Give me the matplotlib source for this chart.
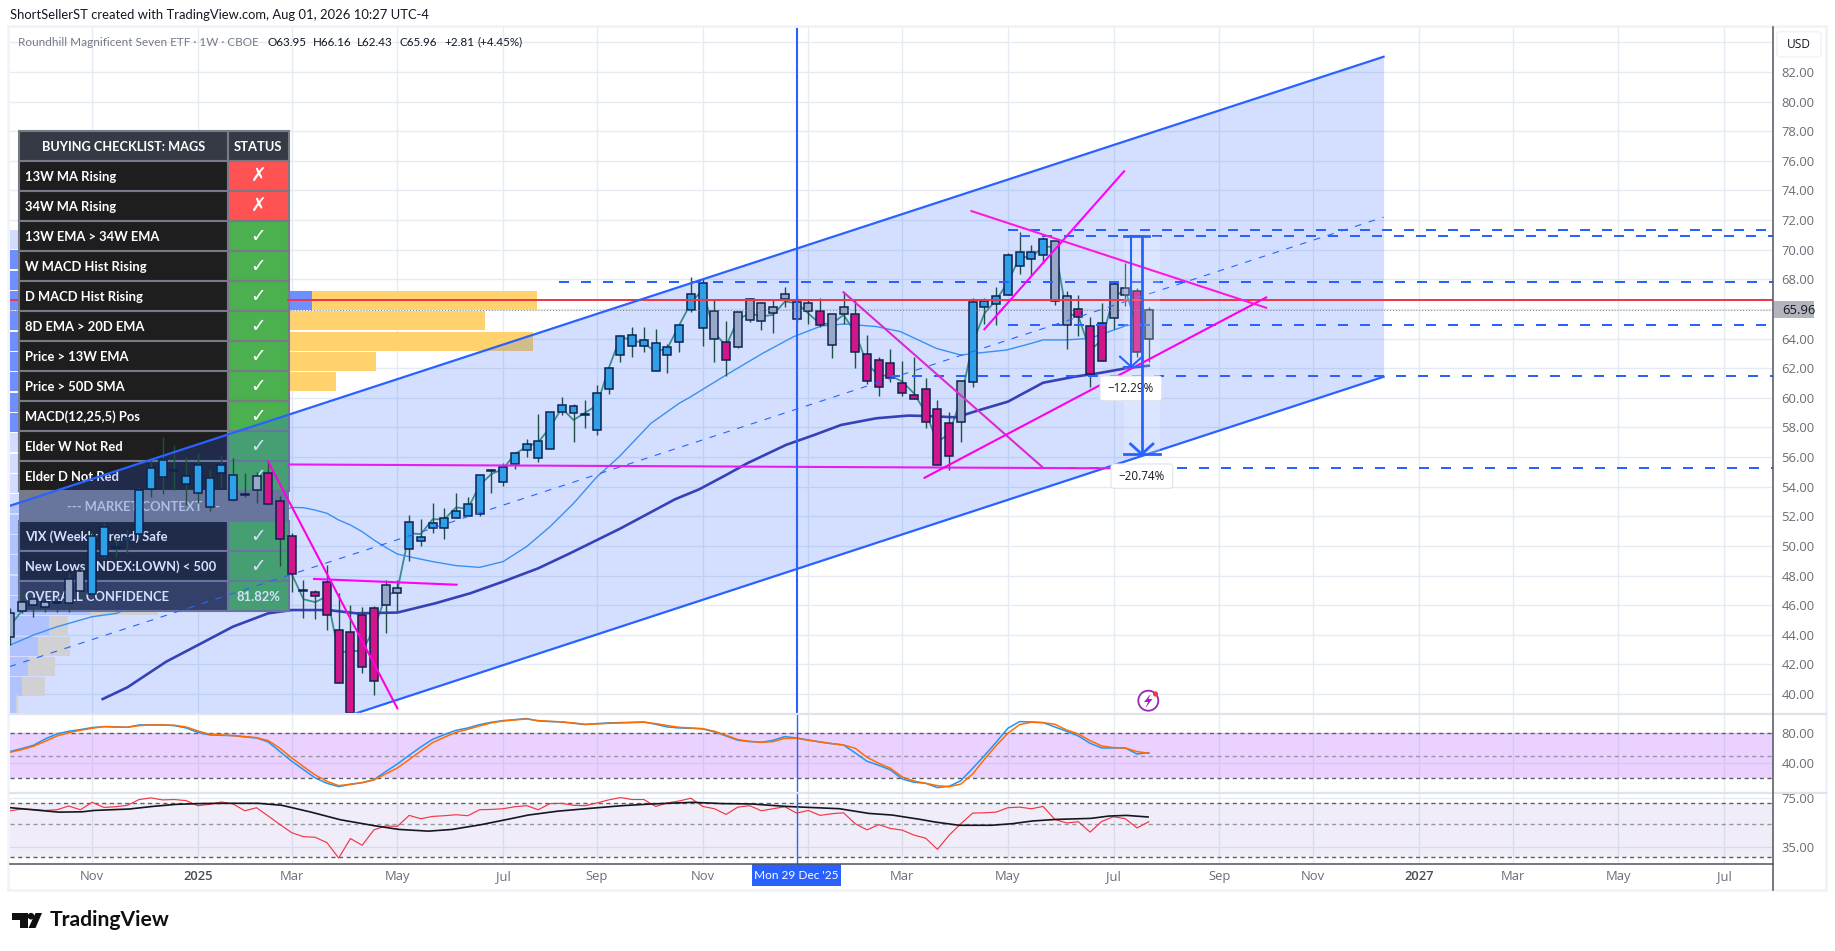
#!/usr/bin/python3
import matplotlib
matplotlib.use("Agg")
import matplotlib.pyplot as plt
import numpy as np
from matplotlib.lines import Line2D
from matplotlib.patches import Circle, FancyBboxPatch, Polygon, Rectangle
from matplotlib.ticker import NullLocator
from matplotlib.transforms import Affine2D

plt.rcParams["font.family"] = ["Open Sans", "DejaVu Sans"]
NARROW = ["Lato", "DejaVu Sans"]

# weekly candles, body edges and wicks
body_top = [45.44, 46.23, 46.39, 46.23, 46.23, 47.79, 48.33, 50.69, 51.30, 49.92,
            50.55, 53.80, 55.28, 55.80, 55.10, 54.69, 55.46, 54.60, 55.48, 54.81,
            53.48, 54.69, 54.90, 53.05, 50.69, 47.00, 46.90, 47.58, 44.29, 44.16,
            45.35, 45.78, 47.33, 47.13, 51.63, 50.57, 51.56, 51.90, 52.33, 52.80,
            54.76, 55.12, 55.35, 56.29, 56.90, 57.06, 59.02, 59.53, 59.42, 58.88,
            60.30, 61.99, 64.15, 64.22, 63.88, 63.68, 63.41, 64.90, 66.99, 67.73,
            65.84, 63.75, 65.77, 66.65, 66.38, 66.11, 66.99, 66.45, 66.38, 65.89,
            65.64, 66.11, 65.64, 62.98, 62.58, 62.33, 60.98, 60.17, 60.57, 59.22,
            58.28, 61.11, 66.45, 66.56, 66.85, 69.62, 69.82, 69.82, 70.70, 70.57,
            66.85, 66.02, 64.83, 65.08, 67.66, 67.39, 67.19, 65.96]
body_bot = [43.82, 45.62, 46.03, 45.90, 46.16, 46.12, 46.93, 46.73, 49.32, 49.88,
            50.37, 50.78, 53.82, 54.63, 55.05, 54.18, 53.55, 52.60, 54.90, 53.07,
            53.41, 53.75, 52.80, 50.44, 48.08, 46.95, 46.59, 45.31, 40.71, 38.69,
            41.79, 40.85, 45.98, 46.79, 49.76, 50.35, 51.23, 51.23, 51.86, 52.04,
            52.17, 55.08, 54.33, 55.50, 56.45, 55.91, 56.52, 59.04, 58.95, 58.84,
            57.80, 60.62, 62.87, 63.48, 63.48, 61.83, 62.87, 63.75, 65.91, 64.69,
            63.95, 62.53, 63.41, 65.23, 65.17, 65.75, 66.65, 65.30, 65.84, 64.90,
            63.55, 65.64, 63.07, 61.11, 60.71, 61.32, 60.30, 59.90, 58.35, 55.44,
            56.05, 58.35, 61.05, 66.11, 66.31, 66.92, 68.88, 69.35, 69.62, 66.52,
            64.90, 65.44, 61.59, 62.47, 65.37, 66.92, 63.12, 63.95]
highs = [45.78, 46.79, 46.57, 46.45, 46.57, 48.14, 48.59, 50.96, 51.52, 50.62,
         51.07, 54.00, 55.91, 57.37, 56.81, 56.02, 56.25, 55.12, 56.13, 55.91,
         54.90, 55.01, 55.68, 53.37, 50.84, 47.69, 47.02, 48.71, 46.79, 46.00,
         45.89, 45.94, 47.69, 47.69, 52.08, 51.81, 52.87, 52.53, 53.55, 53.32,
         54.76, 55.17, 55.57, 56.29, 57.21, 58.88, 59.06, 60.03, 59.58, 59.85,
         60.86, 62.10, 64.24, 64.81, 64.81, 64.63, 63.64, 64.90, 68.18, 68.05,
         66.61, 65.21, 65.77, 66.76, 66.49, 66.61, 67.46, 66.94, 66.67, 66.72,
         65.64, 67.10, 66.65, 64.24, 62.74, 63.30, 62.47, 62.78, 61.32, 59.85,
         59.07, 61.11, 66.76, 66.72, 67.46, 69.80, 71.18, 70.32, 70.88, 70.57,
         67.19, 66.94, 65.48, 66.38, 67.89, 69.13, 67.39, 66.16]
lows = [43.30, 45.44, 45.22, 45.55, 45.55, 45.55, 46.57, 46.57, 49.16, 49.27,
        49.49, 50.62, 53.32, 53.48, 53.77, 52.76, 52.87, 52.37, 54.00, 53.03,
        53.32, 52.91, 52.76, 48.64, 46.86, 45.15, 45.04, 44.32, 40.71, 38.69,
        41.44, 39.95, 44.09, 45.62, 49.00, 50.01, 50.89, 50.46, 51.86, 52.04,
        52.04, 53.59, 54.04, 55.17, 56.02, 55.68, 56.52, 58.86, 57.03, 57.93,
        57.51, 60.26, 62.40, 62.78, 63.12, 61.83, 61.70, 63.10, 65.82, 63.52,
        62.42, 61.47, 63.34, 65.14, 64.58, 64.40, 66.16, 65.14, 64.96, 64.81,
        62.71, 64.96, 62.04, 60.93, 60.15, 61.09, 60.15, 59.90, 57.99, 55.44,
        55.10, 57.00, 60.75, 64.96, 64.92, 66.92, 68.36, 68.29, 69.08, 66.29,
        63.32, 64.18, 60.75, 62.47, 64.65, 66.20, 62.78, 62.43]
bar_kind = ("ggggggg" "bb" "g" "bbbbbbbbbb" "b" "g" "mmm" "g" "mmmmmm" "gg"
            "bbbbbbb" "b" "bbbbbbb" "b" "bbbbbbbbbb" "g" "m" "ggggggg" "m" "gg"
            "mmmmmmmmm" "g" "bbbbbbb" "gg" "mmm" "gg" "m" "g")

# moving averages on the price pane
fast_ma = [44.6, 45.6, 45.9, 46.0, 46.1, 46.6, 47.2, 49.0, 49.8, 49.9, 50.2, 52.0,
           53.5, 54.5, 54.7, 54.6, 54.6, 54.0, 54.5, 54.2, 53.8, 53.9, 53.3, 52.0,
           48.1, 46.4, 46.2, 46.6, 42.8, 42.9, 42.9, 44.4, 46.6, 47.0, 50.85, 50.8,
           51.8, 51.8, 52.6, 52.5, 54.1, 54.85, 55.2, 56.2, 56.7, 57.0, 58.0, 59.3,
           58.5, 59.0, 59.5, 62.0, 64.1, 63.9, 63.68, 63.1, 63.35, 64.9, 66.4, 67.3,
           64.4, 63.5, 65.3, 65.7, 65.5, 65.6, 66.5, 66.4, 65.7, 65.0, 65.0, 65.6,
           64.4, 62.3, 61.5, 61.5, 61.1, 60.3, 59.0, 57.0, 57.6, 59.9, 63.7, 65.7,
           66.6, 67.8, 69.5, 69.5, 70.2, 70.2, 65.7, 65.5, 63.2, 63.9, 66.8, 67.3,
           64.8, 65.0]
mid_ma_bar = [0, 2, 4, 7, 9.1, 12, 15, 18, 21, 24, 25, 26, 27, 28, 29, 30, 31, 32, 33,
              34, 36, 38, 40, 42, 44, 46, 48, 50, 51.9, 54.6, 57, 58, 61, 64.1,
              66.75, 69.1, 71.1, 73.8, 75.85, 78.9, 81, 82.2, 84.9, 87, 88, 90, 92,
              95, 96]
mid_ma = [43.3, 43.98, 44.54, 45.22, 45.45, 46.5, 48.0, 50.0, 51.8, 52.6, 52.58,
          52.42, 52.2, 51.75, 51.41, 50.96, 50.4, 49.9, 49.45, 49.27, 48.94, 48.67,
          48.55, 48.94, 49.95, 51.3, 52.87, 54.67, 56.03, 58.28, 59.63, 60.08, 61.54,
          63.0, 64.13, 64.85, 64.99, 64.81, 64.47, 63.34, 62.89, 63.0, 63.23, 63.68,
          63.91, 63.91, 64.02, 64.85, 65.0]
slow_ma_bar = [7.9, 10, 13.3, 16, 19, 22, 24, 27.1, 29.5, 33, 36.2, 39.2, 42, 45, 47.7,
               52, 56.65, 58.7, 61, 62.8, 66.1, 68.5, 70.8, 73.8, 76.5, 78.2, 80.6,
               82.6, 85, 88, 90.7, 92.7, 95.1, 97]
slow_ma = [39.66, 40.45, 42.18, 43.3, 44.55, 45.45, 45.67, 45.67, 45.45, 45.5, 46.12,
           46.8, 47.59, 48.49, 49.5, 51.18, 53.15, 53.82, 54.79, 55.58, 56.82, 57.49,
           58.17, 58.62, 58.8, 58.77, 58.68, 59.18, 59.74, 61.02, 61.43, 61.66, 62.0,
           62.17]

# stochastic RSI pane
stoch_k = [55.6, 59.6, 64, 72.4, 79.1, 82.7, 84.9, 87.6, 88.9, 88.4, 88, 91.1, 91.1,
           91.1, 90.2, 87.1, 81.3, 77.8, 77.3, 76.9, 75.1, 73.8, 68.4, 55.6, 42.7,
           31.6, 20.4, 13.3, 8.9, 12, 14.2, 18.2, 28.9, 39.1, 50.7, 61.8, 72, 78.2,
           84, 87.1, 91.6, 94.7, 96.9, 98.2, 99.6, 96.4, 95.6, 95.1, 93.3, 91.6,
           92.9, 93.8, 94.2, 94.7, 95.1, 92, 88.4, 87.1, 86.7, 85.8, 81.8, 76.4,
           70.7, 68.9, 68, 70.7, 75.6, 73.8, 71.1, 68.4, 66.2, 64.4, 53.8, 42.7,
           37.3, 31.1, 19.1, 14.7, 13.3, 7.6, 9.3, 16.9, 33.3, 50.2, 68, 86.7, 95.6,
           95.1, 94.2, 88.4, 82.7, 76.4, 66.7, 60.4, 60.4, 60.4, 52.4, 54.2]
stoch_d = [54.7, 58.2, 62.7, 69.3, 76.4, 80.9, 84, 86.7, 88.9, 88.4, 88, 90.2, 91.1,
           91.1, 90.7, 88.4, 83.1, 78.7, 77.8, 76.9, 75.6, 74.2, 70.2, 60, 47.1,
           35.6, 24.4, 16, 10.2, 12, 14.2, 17.8, 25.8, 33.8, 44.9, 56.4, 67.6, 74.7,
           81.3, 85.3, 89.8, 93.8, 96.4, 97.8, 99.1, 96.9, 96, 95.1, 93.8, 92, 92.4,
           93.3, 93.8, 94.2, 94.7, 92.9, 90.2, 88, 87.1, 86.2, 82.7, 77.3, 71.6,
           69.3, 68, 68.9, 73.3, 73.3, 70.7, 68.4, 66.2, 64.4, 60, 48, 40, 33.3,
           21.8, 16.4, 13.3, 10.2, 8.9, 12.4, 25.8, 45.3, 63.6, 80, 91.6, 94.7, 94.2,
           92, 84.4, 79.1, 70.2, 63.1, 60.9, 60.4, 55.6, 53.3]

# RSI pane
rsi = [61.7, 63.4, 63, 62, 62.7, 66.4, 62.7, 70.4, 65, 65.7,
       67.2, 73.5, 75.4, 73.1, 73.5, 72.3, 66.8, 68.2, 70.8, 68.6,
       61.7, 64.7, 56.8, 49.7, 43.8, 41.2, 40.8, 37.5, 29.5, 40,
       36, 45.8, 48.7, 48.4, 57.4, 54.5, 56.5, 57.1, 58, 57.1,
       62.7, 63, 63.7, 65.7, 66.8, 62.7, 69, 69.3, 67.2, 66.8,
       69.7, 73.1, 75.8, 73.5, 73.5, 66, 69.7, 71.9, 75, 66,
       63.7, 58.3, 65.3, 66.8, 61.7, 63.7, 65.7, 59.5, 62, 57.4,
       58.9, 59.8, 50.4, 45.8, 49.7, 46.8, 45.6, 42.2, 40.2, 33.8,
       42.2, 50.4, 59.5, 59.8, 60.4, 64.7, 65.3, 63.7, 66, 53.9,
       51, 52, 44.2, 52.3, 56.2, 54.5, 47.2, 52]
rsi_ma_bar = [0.05, 1.9, 4.15, 6.15, 7.15, 10.15, 12.15, 14.15, 16.15, 18.15, 21.15,
              23.15, 25.65, 28.15, 31.15, 33.15, 35.65, 37.65, 40.15, 42.65, 44.15,
              46.65, 49.65, 52.15, 54.65, 58.15, 60.65, 63.15, 66.15, 70.65, 73.15,
              75.15, 77.55, 78.84, 80.84, 83.59, 85.34, 87.09, 89.09, 92.09, 93.59,
              95.09, 96.94]
rsi_ma = [64.7, 62.7, 60.4, 60.7, 62, 63.4, 66, 68.2, 69, 69.3, 69.3, 67.2, 60.4, 53.6,
          48.7, 46.1, 44.9, 46.1, 49.7, 54.5, 57.7, 61.3, 64.3, 66.8, 68.6, 70.4, 69,
          68.6, 66, 63.7, 59.2, 57.7, 53.9, 51.7, 49.2, 49.2, 50.4, 52.6, 53.9, 54.8,
          56.8, 57.4, 56]

# volume profile rows, top row first, lengths in pixels of the pane
vp_prices = [70.69, 69.32, 67.94, 66.57, 65.20, 63.82, 62.45, 61.08, 59.71, 58.33,
             56.96, 55.59, 54.21, 52.84, 51.47, 50.10, 48.72, 47.35, 45.98, 44.60,
             43.23, 41.86, 40.49, 39.30]
vp_up = [100, 180, 200, 302.5, 270, 265, 240, 225, 200, 160, 100, 90, 120, 110, 120,
         130, 140, 120, 80.5, 39.5, 28.5, 18.5, 12.5, 6.5]
vp_down = [60, 80, 70, 225, 205, 258, 126, 101, 70, 60, 50, 60, 80, 70, 60, 90, 90, 60,
           67.5, 19, 32, 27, 23, 2]
vp_in_area = [0, 1, 1, 1, 1, 1, 1, 1, 1, 1, 0, 0, 0, 0, 0, 0, 0, 0, 0, 0, 0, 0, 0, 0]

# drawings
channel_bar = [-0.04, 117]
channel_up = [52.7, 83.03]
channel_mid = [41.85, 72.2]
channel_low = [31.03, 61.42]
level_prices = [71.33, 70.93, 67.82, 64.92, 61.47, 55.24]
level_start = [85, 86, 46.8, 85, 75, 90]
red_level = 66.58
last_price = 65.96
magenta_lines = [([23.7, 93.7], [55.5, 55.24], "#E61CF0"),
                 ([22, 33], [55.68, 39.03], "#FF00E0"),
                 ([25.9, 38.05], [47.77, 47.38], "#FF00FF"),
                 ([71, 88], [67.13, 55.28], "#D92AD2"),
                 ([77.9, 107], [54.6, 66.78], "#FF00E6"),
                 ([81.9, 107], [72.61, 66.08], "#FF18E0"),
                 ([83, 94.9], [64.63, 75.3], "#FF00FF")]
measure_top = 70.93
measure_bars = [95.5, 96.4]
measure_bottoms = [62.1, 56.2]
measure_labels = ["\u221212.29%", "\u221220.74%"]

# axis labels
price_ticks = list(range(40, 86, 2))
time_ticks = [7, 16, 24, 33, 42, 50, 59, 68, 76, 85, 94, 103, 111, 120, 128, 137, 146]
time_labels = ["Nov", "2025", "Mar", "May", "Jul", "Sep", "Nov", "", "Mar", "May", "Jul",
               "Sep", "Nov", "2027", "Mar", "May", "Jul"]

# checklist table
table_rows = ["13W MA Rising", "34W MA Rising", "13W EMA > 34W EMA", "W MACD Hist Rising",
              "D MACD Hist Rising", "8D EMA > 20D EMA", "Price > 13W EMA",
              "Price > 50D SMA", "MACD(12,25,5) Pos", "Elder W Not Red",
              "Elder D Not Red", "--- MARKET CONTEXT ---", "VIX (Weekly Trend) Safe",
              "New Lows (INDEX:LOWN) < 500", "OVERALL CONFIDENCE"]
table_status = ["x", "x", "v", "v", "v", "v", "v", "v", "v", "v", "v", "", "v", "v", "81.82%"]

W, H = 1835, 951
BAR_PX = 11.74
XLIM = (-0.04, 150.17)
BLUE = "#2962FF"
TEXT_GREY = "#6A6D78"
GRID = "#E4EBF2"
TABLE_SIZE = 9.4

fig = plt.figure(figsize=(W / 100, H / 100), dpi=100, facecolor="white")
pix = Affine2D().scale(1, -1).translate(0, H)


def pane(top, bottom):
    a = fig.add_axes([9.5 / W, 1 - bottom / H, (1773 - 9.5) / W, (bottom - top) / H])
    for s in a.spines.values():
        s.set_visible(False)
    a.set_xlim(*XLIM)
    a.set_xticks(time_ticks)
    a.grid(True, color=GRID, lw=1.0, zorder=1)
    a.set_axisbelow(True)
    a.yaxis.tick_right()
    a.tick_params(length=0, labelbottom=False, labelsize=9.4, labelcolor=TEXT_GREY, pad=6.2)
    return a


ax = pane(27, 714)
ax2 = pane(714, 793)
ax3 = pane(793, 863.5)

# price pane
ax.set_ylim(38.65, 85.04)
ax.set_yticks(price_ticks)
ax.set_yticklabels(["%.2f" % p if p < 84 else "" for p in price_ticks])

vp_up_w = np.array(vp_up) / BAR_PX
vp_down_w = np.array(vp_down) / BAR_PX
for i in range(len(vp_prices)):
    up_col = "#6E8FFF" if vp_in_area[i] else "#D2DCFF"
    down_col = "#FFD26E" if vp_in_area[i] else "#FBECC7"
    ax.barh(vp_prices[i], vp_up_w[i], height=1.28, left=XLIM[0], color=up_col, zorder=2)
    ax.barh(vp_prices[i], vp_down_w[i], height=1.28, left=XLIM[0] + vp_up_w[i],
            color=down_col, zorder=2)

bars = np.arange(len(body_top))
ax.plot(bars, fast_ma, color="#3E9A78", lw=1.3, zorder=2.4)
ax.plot(mid_ma_bar, mid_ma, color="#3D9CF0", lw=1.0, zorder=2.4)
ax.plot(slow_ma_bar, slow_ma, color="#3A3AA6", lw=1.9, zorder=2.4)

# table sits above the profile but below the channel and candles
tx0, tx1, tx2 = 18.6, 228, 288.6
ty0, row_h = 130.7, 30
for i in range(16):
    y = ty0 + i * row_h
    ty = y + row_h / 2 + 1
    if i == 0:
        label, status = "BUYING CHECKLIST: MAGS", "STATUS"
    else:
        label, status = table_rows[i - 1], table_status[i - 1]
    if label.startswith("---"):
        ax.add_patch(Rectangle((tx0, y), tx2 - tx0, row_h, transform=pix, fc="#787B86",
                               ec="none", zorder=3))
        ax.text((tx0 + tx2) / 2 - 10, ty, label, transform=pix, color="#D1D4DC",
                fontsize=TABLE_SIZE, family=NARROW, fontweight="bold", ha="center",
                va="center", zorder=3.5)
        continue
    left_col = "#363A45" if i in (0, 15) else "#1E1E1E"
    right_col = "#363A45" if i == 0 else ("#FF5252" if status == "x" else "#4CAF50")
    ax.add_patch(Rectangle((tx0, y), tx1 - tx0, row_h, transform=pix, fc=left_col,
                           ec="#787B86", lw=1.5, zorder=3))
    ax.add_patch(Rectangle((tx1, y), tx2 - tx1, row_h, transform=pix, fc=right_col,
                           ec="#787B86", lw=1.5, zorder=3))
    if i == 0:
        ax.text((tx0 + tx1) / 2, ty, label, transform=pix, color="white", fontsize=9.2,
                family=NARROW, fontweight="bold", ha="center", va="center", zorder=3.5)
    else:
        ax.text(tx0 + 6, ty, label, transform=pix, color="white", fontsize=TABLE_SIZE,
                family=NARROW, fontweight="bold", ha="left", va="center", zorder=3.5)
    if status == "x":
        ax.text((tx1 + tx2) / 2, ty, "\u2717", transform=pix, color="white", fontsize=13.5,
                family="DejaVu Sans", fontweight="bold", ha="center", va="center", zorder=3.5)
    elif status == "v":
        ax.text((tx1 + tx2) / 2, ty, "\u2713", transform=pix, color="white", fontsize=13.5,
                family="DejaVu Sans", fontweight="bold", ha="center", va="center", zorder=3.5)
    else:
        ax.text((tx1 + tx2) / 2, ty, status, transform=pix, color="white", fontsize=TABLE_SIZE,
                family=NARROW, fontweight="bold", ha="center", va="center", zorder=3.5)

ax.fill_between(channel_bar, channel_low, channel_up, color=BLUE, alpha=0.2, lw=0, zorder=4)

# candles
body_cols = {"b": "#2F9FE8", "m": "#D1168A", "g": "#9AA8C8"}
for i in bars:
    ax.vlines(i, lows[i], highs[i], color="#1F4F45", lw=1.0, zorder=5)
    ax.bar(i, body_top[i] - body_bot[i], bottom=body_bot[i], width=0.68,
           color=body_cols[bar_kind[i]], edgecolor="#0D2350", lw=1.1, zorder=5.5)

# channel and levels
ax.plot(channel_bar, channel_up, color=BLUE, lw=1.6, zorder=7)
ax.plot(channel_bar, channel_low, color=BLUE, lw=1.6, zorder=7)
ax.plot(channel_bar, channel_mid, color=BLUE, lw=0.8, ls=(0, (6, 7)), zorder=7)
for p, s in zip(level_prices, level_start):
    ax.plot([s, XLIM[1]], [p, p], color=BLUE, lw=1.44, ls=(0, (5, 6)), zorder=7)
ax.plot([XLIM[0], 0.7], [red_level, red_level], color="#F23645", lw=1.44, zorder=2.6)
ax.plot([23.7, XLIM[1]], [red_level, red_level], color="#F23645", lw=1.44, zorder=6.5)
ax.axhline(last_price, color="#787B86", lw=0.7, ls=(0, (1, 2)), zorder=6.5)
for xs, ys, col in magenta_lines:
    ax.plot(xs, ys, color=col, lw=1.5, zorder=7.2)
ax.axvline(67, color=BLUE, lw=1.5, zorder=7.3)

# measure tools
ax.add_patch(Rectangle((94.9, measure_bottoms[1]), 3.05, measure_top - measure_bottoms[1],
                       fc="white", alpha=0.2, ec="none", zorder=7.1))
ax.plot([94.9, 97.0], [measure_top, measure_top], color=BLUE, lw=2, zorder=7.4)
for k, b, lw in zip(measure_bars, measure_bottoms, [1.5, 2.0]):
    ax.plot([k, k], [measure_top, b], color=BLUE, lw=lw, zorder=7.4)
    ax.plot([k - 0.95, k, k + 0.95], [b + 0.68, b, b + 0.68], color=BLUE, lw=lw, zorder=7.4)
ax.plot([94.9, 97.95], [measure_bottoms[1], measure_bottoms[1]], color=BLUE, lw=2, zorder=7.4)
ax.plot([94.9, 96.3], [measure_bottoms[0], measure_bottoms[0]], color=BLUE, lw=1.5, zorder=7.4)
for (x0, x1, y0, y1), txt in zip([(1100, 1161.7, 376, 400.7), (1111, 1172.7, 464, 488.3)],
                                 measure_labels):
    ax.add_patch(FancyBboxPatch((x0 + 3, y0 + 3), x1 - x0 - 6, y1 - y0 - 6,
                                boxstyle="round,pad=3", transform=pix, fc="white",
                                ec="#E0E3EB", lw=0.8, zorder=7.35))
    ax.text((x0 + x1) / 2, (y0 + y1) / 2, txt, transform=pix, color="#131722", fontsize=8.4,
            ha="center", va="center", zorder=7.36)

# stochastic pane
ax2.set_ylim(0.4, 105.7)
ax2.set_yticks([40, 80])
ax2.set_yticklabels(["40.00", "80.00"])
ax2.axhspan(20, 80, color="#C77DFF", alpha=0.35, lw=0, zorder=1.5)
for lvl, col in [(80, "#5D606B"), (50, "#9598A1"), (20, "#5D606B")]:
    ax2.axhline(lvl, color=col, lw=1.0, ls=(0, (3, 2.5)), zorder=2)
ax2.plot(bars, stoch_k, color="#2196F3", lw=1.1, zorder=3)
ax2.plot(bars, stoch_d, color="#FF6D00", lw=1.1, zorder=3.2)
ax2.axvline(67, color=BLUE, lw=1.0, zorder=4)

# RSI pane, logarithmic like the reference
ax3.set_yscale("log")
ax3.set_ylim(27.1, 81.4)
ax3.set_yticks([35, 75])
ax3.set_yticklabels(["35.00", "75.00"])
ax3.yaxis.set_minor_locator(NullLocator())
ax3.axhspan(30, 70, color="#7E57C2", alpha=0.1, lw=0, zorder=1.5)
for lvl, col in [(70, "#5D606B"), (50, "#9598A1"), (30, "#5D606B")]:
    ax3.axhline(lvl, color=col, lw=1.0, ls=(0, (3, 2.5)), zorder=2)
ax3.plot(bars, rsi, color="#F23645", lw=0.85, zorder=3)
ax3.plot(rsi_ma_bar, rsi_ma, color="#131722", lw=1.2, zorder=3.2)
ax3.axvline(67, color=BLUE, lw=1.0, zorder=4)
ax3.set_xticklabels(time_labels)
ax3.tick_params(axis="x", labelbottom=True, pad=4.5)
for lab in ax3.get_xticklabels():
    if lab.get_text() in ("2025", "2027"):
        lab.set_color("#4A4D57")
        lab.set_fontweight("semibold")


def fig_line(x0, y0, x1, y1, col, lw):
    fig.add_artist(Line2D([x0, x1], [y0, y1], transform=pix, color=col, lw=lw))


# frame and separators
for a, b, c, d in [(8, 26, 1826, 26), (8, 26, 8, 890), (8, 890, 1826, 890), (1826, 26, 1826, 890)]:
    fig_line(a, b, c, d, "#F0F3FA", 2.0)
fig_line(9.5, 714, 1826, 714, "#E0E3EB", 1.6)
fig_line(9.5, 793, 1826, 793, "#E0E3EB", 1.6)
fig_line(9.5, 863.5, 1773, 863.5, "#50535E", 1.1)
fig_line(1773, 27, 1773, 890, "#50535E", 1.1)

# tags on the axes
fig.add_artist(Rectangle((752, 863.5), 89, 22.5, transform=pix, fc=BLUE, ec="none"))
fig.text(796.5, 875.5, "Mon 29 Dec '25", transform=pix, color="white", fontsize=8.6,
         family=NARROW, ha="center", va="center")
fig.add_artist(Rectangle((1773.5, 301), 40, 16.7, transform=pix, fc="#B2B5BE", ec="none"))
fig.text(1782, 310, "65.96", transform=pix, color="#131722", fontsize=9.4, ha="left", va="center")
fig.add_artist(FancyBboxPatch((1780, 34.7), 38, 19, boxstyle="round,pad=3", transform=pix,
                              fc="white", ec="#F0F3FA", lw=1.2))
fig.text(1799, 44.5, "USD", transform=pix, color="#131722", fontsize=8.6, ha="center", va="center")

# header and legend text
fig.text(9.5, 15, "ShortSellerST created with TradingView.com, Aug 01, 2026 10:27 UTC-4",
         transform=pix, color="#131722", fontsize=9.4, family=NARROW, ha="left", va="center")
fig.text(18, 42, "Roundhill Magnificent Seven ETF \u00b7 1W \u00b7 CBOE", transform=pix,
         color="#787B86", fontsize=8.5, family=NARROW, ha="left", va="center")
legend_bits = [(267.7, "O63.95"), (312.4, "H66.16"), (357, "L62.43"), (400, "C65.96"),
               (444.4, "+2.81"), (477.7, "(+4.45%)")]
for x, s in legend_bits:
    fig.text(x, 42, s, transform=pix, color="#131722", fontsize=8.4, family=NARROW, ha="left",
             va="center")

# lightning badge
fig.add_artist(Circle((1148.3, 700.7), 10, transform=pix, fc="white", ec="#9C27B0", lw=1.3))
fig.add_artist(Polygon([(1151, 693.5), (1144, 702), (1148, 702), (1145.5, 708), (1152.5, 699),
                        (1148.5, 699)], transform=pix, fc="#9C27B0", ec="none"))
fig.add_artist(Circle((1155.5, 694), 2.6, transform=pix, fc="#F23645", ec="none"))

# TradingView logo
fig.add_artist(Polygon([(12, 913), (27.5, 913), (27.5, 928), (20, 928), (20, 919.5), (12, 919.5)],
                       transform=pix, fc="#0F0F0F", ec="none"))
fig.add_artist(Circle((31, 916.2), 3.3, transform=pix, fc="#0F0F0F", ec="none"))
fig.add_artist(Polygon([(35.5, 913), (42, 913), (35.5, 928), (28.5, 928)], transform=pix,
                       fc="#0F0F0F", ec="none"))
fig.text(50, 920.5, "TradingView", transform=pix, color="#0F0F0F", fontsize=15.2,
         family=NARROW, fontweight="bold", ha="left", va="center")

fig.savefig("out.png", dpi=100)
